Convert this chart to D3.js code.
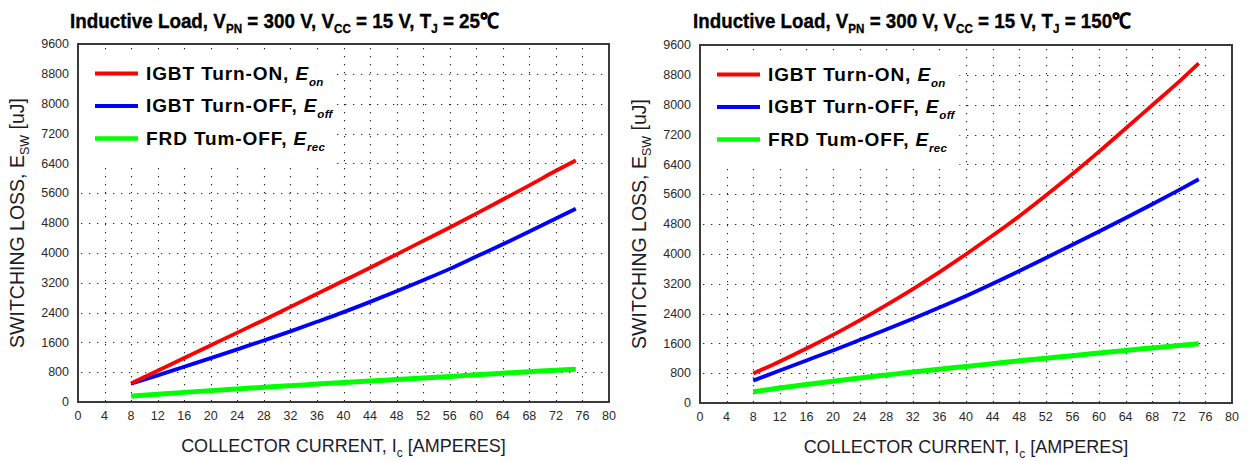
<!DOCTYPE html>
<html>
<head>
<meta charset="utf-8">
<script src="https://cdn.jsdelivr.net/npm/d3@7"></script>
<style>
  html, body { margin: 0; padding: 0; background: #fff; }
  svg { display: block; }
</style>
</head>
<body>
<div id="chart"></div>
<script>
// ---------------- data ----------------
const currents = [8, 12, 16, 20, 24, 28, 32, 36, 40, 44, 48, 52, 56, 60, 64, 68, 72, 75];

// Tj = 25 C
const eon25  = [500, 840, 1180, 1520, 1860, 2200, 2550, 2900, 3250, 3600, 3960, 4320, 4680, 5050, 5430, 5810, 6200, 6480];
const eoff25 = [490, 715, 945, 1175, 1410, 1650, 1895, 2150, 2410, 2685, 2970, 3265, 3570, 3900, 4230, 4570, 4920, 5180];
const erec25 = [160, 210, 258, 305, 350, 395, 438, 480, 522, 564, 605, 646, 687, 728, 770, 812, 853, 880];

// Tj = 150 C
const eon150  = [790, 1115, 1460, 1825, 2215, 2625, 3055, 3510, 3990, 4490, 5010, 5565, 6140, 6740, 7360, 7985, 8610, 9110];
const eoff150 = [600, 870, 1140, 1410, 1690, 1970, 2260, 2560, 2870, 3200, 3540, 3890, 4245, 4600, 4960, 5330, 5710, 6000];
const erec150 = [300, 400, 495, 585, 670, 750, 830, 905, 980, 1055, 1130, 1200, 1270, 1340, 1410, 1475, 1540, 1590];

const xTickValues = [0, 4, 8, 12, 16, 20, 24, 28, 32, 36, 40, 44, 48, 52, 56, 60, 64, 68, 72, 76, 80];
const yTickValues = [0, 800, 1600, 2400, 3200, 4000, 4800, 5600, 6400, 7200, 8000, 8800, 9600];

const seriesNames = ["IGBT Turn-ON, ", "IGBT Turn-OFF, ", "FRD Tum-OFF, "];
const seriesSubs  = ["on", "off", "rec"];
const seriesColors = ["#ff0000", "#0000ff", "#00ff00"];
const seriesWidths = [3.8, 3.8, 5];

const titlesTj = ["25", "150"];

// ---------------- drawing ----------------
const W = 1248, H = 461;
const svg = d3.select("#chart").append("svg")
  .attr("width", W).attr("height", H)
  .style("background", "#fff");

const panels = [
  { left: 78,  right: 609,  top: 44, bottom: 402, titleX: 284.5, titleW: 429, tj: titlesTj[0], data: [eon25, eoff25, erec25] },
  { left: 700, right: 1232, top: 45, bottom: 403, titleX: 912,   titleW: 438, tj: titlesTj[1], data: [eon150, eoff150, erec150] }
];

const axisFont = "Arial, 'Liberation Sans', sans-serif";

panels.forEach(p => {
  const x = d3.scaleLinear().domain([0, 80]).range([p.left, p.right]);
  const y = d3.scaleLinear().domain([0, 9600]).range([p.bottom, p.top]);
  const g = svg.append("g");

  // grid
  const grid = g.append("g").attr("stroke", "#222").attr("stroke-width", 1.1)
    .attr("stroke-dasharray", "1.3,6.7");
  grid.selectAll("line.v").data(xTickValues.filter(v => v > 0 && v < 80)).join("line")
    .attr("x1", d => Math.round(x(d)) + 0.5).attr("x2", d => Math.round(x(d)) + 0.5)
    .attr("y1", p.top + 4).attr("y2", p.bottom);
  grid.selectAll("line.h").data(yTickValues.filter(v => v > 0 && v < 9600)).join("line")
    .attr("x1", p.left + 3).attr("x2", p.right)
    .attr("y1", d => Math.round(y(d)) + 0.5).attr("y2", d => Math.round(y(d)) + 0.5);

  // legend backdrop hides the grid
  g.append("rect")
    .attr("x", p.left + 1).attr("y", p.top + 12)
    .attr("width", x(39) - p.left - 1).attr("height", 110)
    .attr("fill", "#fff");

  // series
  const line = d3.line().x((d, i) => x(currents[i])).y(d => y(d)).curve(d3.curveMonotoneX);
  [2, 1, 0].forEach(k => {
    g.append("path").datum(p.data[k])
      .attr("d", line)
      .attr("fill", "none")
      .attr("stroke", seriesColors[k])
      .attr("stroke-width", seriesWidths[k])
      .attr("stroke-linejoin", "round");
  });

  // frame
  g.append("rect")
    .attr("x", p.left).attr("y", p.top)
    .attr("width", p.right - p.left).attr("height", p.bottom - p.top)
    .attr("fill", "none").attr("stroke", "#3a3a3a").attr("stroke-width", 2);

  // y tick labels
  g.append("g").selectAll("text").data(yTickValues).join("text")
    .attr("x", p.left - 9).attr("y", d => y(d) + 4.3)
    .attr("text-anchor", "end")
    .attr("font-family", axisFont).attr("font-size", 12.5)
    .attr("fill", "#2a2a2a")
    .text(d => d);

  // x tick labels
  g.append("g").selectAll("text").data(xTickValues).join("text")
    .attr("x", d => x(d)).attr("y", p.bottom + 17.5)
    .attr("text-anchor", "middle")
    .attr("font-family", axisFont).attr("font-size", 12.5)
    .attr("fill", "#2a2a2a")
    .text(d => d);

  // x axis title
  const xt = g.append("text")
    .attr("x", (p.left + p.right) / 2).attr("y", p.bottom + 50)
    .attr("text-anchor", "middle")
    .attr("font-family", axisFont).attr("font-size", 18)
    .attr("fill", "#1c1c2a");
  xt.append("tspan").text("COLLECTOR CURRENT, I");
  xt.append("tspan").text("c").attr("font-size", 12).attr("dy", 5);
  xt.append("tspan").text(" [AMPERES]").attr("dy", -5);

  // y axis title
  const yt = g.append("text")
    .attr("transform", `translate(${p.left - 54.5},${(p.top + p.bottom) / 2}) rotate(-90)`)
    .attr("text-anchor", "middle")
    .attr("font-family", axisFont).attr("font-size", 19.5)
    .attr("fill", "#1c1c2a");
  yt.append("tspan").text("SWITCHING LOSS, E");
  yt.append("tspan").text("SW").attr("font-size", 12.5).attr("dy", 5);
  yt.append("tspan").text(" [uJ]").attr("dy", -5);

  // title (condensed bold: horizontally scaled to the reference width)
  const tg = g.append("g");
  const tt = tg.append("text")
    .attr("x", 0).attr("y", 0)
    .attr("text-anchor", "middle")
    .attr("font-family", axisFont).attr("font-weight", "bold").attr("font-size", 21)
    .attr("fill", "#000").attr("stroke", "#000").attr("stroke-width", 0.35);
  const sub = (s) => { tt.append("tspan").text(s).attr("font-size", 13).attr("dy", 5.5); };
  const main = (s) => { tt.append("tspan").text(s).attr("dy", -5.5); };
  tt.append("tspan").text("Inductive Load, V");
  sub("PN"); main(" = 300 V, V");
  sub("CC"); main(" = 15 V, T");
  sub("J"); main(" = " + p.tj + "\u2103");
  const natural = tt.node().getBBox().width;
  tg.attr("transform", `translate(${p.titleX},27.5) scale(${p.titleW / natural},1)`);

  // legend
  const leg = g.append("g");
  seriesNames.forEach((name, k) => {
    const ly = p.top + 29.5 + k * 32.5;
    leg.append("line")
      .attr("x1", p.left + 17).attr("x2", p.left + 60)
      .attr("y1", ly).attr("y2", ly)
      .attr("stroke", seriesColors[k]).attr("stroke-width", k === 2 ? 4.5 : 4);
    const t = leg.append("text")
      .attr("x", p.left + 68).attr("y", ly + 6.4)
      .attr("font-family", axisFont).attr("font-weight", "bold").attr("font-size", 19)
      .attr("letter-spacing", 0.9)
      .attr("fill", "#000");
    t.append("tspan").text(name);
    t.append("tspan").text("E").attr("font-style", "italic");
    t.append("tspan").text(seriesSubs[k]).attr("font-style", "italic")
      .attr("font-size", 11.5).attr("dy", 6).attr("letter-spacing", 0.3);
  });
});
</script>
</body>
</html>
